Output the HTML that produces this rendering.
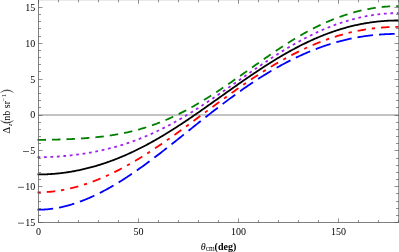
<!DOCTYPE html>
<html><head><meta charset="utf-8"><style>
html,body{margin:0;padding:0;background:#fff;}
body{width:399px;height:252px;overflow:hidden;}
svg{display:block;will-change:transform;}
text{font-family:"Liberation Serif",serif;font-size:10px;fill:#000;}
</style></head><body>
<svg width="399" height="252" viewBox="0 0 399 252">
<line x1="38.5" y1="115.0" x2="398.8" y2="115.0" stroke="#888" stroke-width="1.2"/>
<g>
<polyline points="37.50,139.81 38.50,139.81 39.50,139.81 40.50,139.80 41.50,139.80 42.50,139.80 43.50,139.79 44.50,139.78 45.50,139.77 46.50,139.76 47.50,139.75 48.50,139.74 49.50,139.72 50.50,139.71 51.50,139.69 52.50,139.67 53.50,139.65 54.50,139.63 55.50,139.60 56.50,139.58 57.50,139.55 58.50,139.52 59.50,139.50 60.50,139.47 61.50,139.43 62.50,139.40 63.50,139.36 64.50,139.33 65.50,139.29 66.50,139.25 67.50,139.21 68.50,139.17 69.50,139.12 70.50,139.08 71.50,139.03 72.50,138.98 73.50,138.93 74.50,138.88 75.50,138.82 76.50,138.77 77.50,138.71 78.50,138.65 79.50,138.59 80.50,138.52 81.50,138.46 82.50,138.39 83.50,138.32 84.50,138.25 85.50,138.17 86.50,138.10 87.50,138.02 88.50,137.94 89.50,137.85 90.50,137.77 91.50,137.68 92.50,137.59 93.50,137.49 94.50,137.40 95.50,137.30 96.50,137.20 97.50,137.09 98.50,136.98 99.50,136.87 100.50,136.76 101.50,136.64 102.50,136.52 103.50,136.40 104.50,136.27 105.50,136.14 106.50,136.01 107.50,135.87 108.50,135.73 109.50,135.59 110.50,135.44 111.50,135.29 112.50,135.13 113.50,134.98 114.50,134.81 115.50,134.65 116.50,134.47 117.50,134.30 118.50,134.12 119.50,133.93 120.50,133.75 121.50,133.55 122.50,133.36 123.50,133.16 124.50,132.95 125.50,132.74 126.50,132.52 127.50,132.30 128.50,132.08 129.50,131.85 130.50,131.62 131.50,131.38 132.50,131.13 133.50,130.89 134.50,130.63 135.50,130.37 136.50,130.11 137.50,129.84 138.50,129.57 139.50,129.29 140.50,129.00 141.50,128.71 142.50,128.42 143.50,128.12 144.50,127.81 145.50,127.50 146.50,127.18 147.50,126.86 148.50,126.53 149.50,126.20 150.50,125.86 151.50,125.52 152.50,125.17 153.50,124.82 154.50,124.46 155.50,124.09 156.50,123.72 157.50,123.34 158.50,122.96 159.50,122.57 160.50,122.18 161.50,121.78 162.50,121.38 163.50,120.97 164.50,120.55 165.50,120.13 166.50,119.71 167.50,119.27 168.50,118.84 169.50,118.39 170.50,117.95 171.50,117.49 172.50,117.03 173.50,116.57 174.50,116.10 175.50,115.62 176.50,115.14 177.50,114.66 178.50,114.17 179.50,113.67 180.50,113.17 181.50,112.66 182.50,112.15 183.50,111.63 184.50,111.11 185.50,110.58 186.50,110.05 187.50,109.52 188.50,108.97 189.50,108.43 190.50,107.88 191.50,107.32 192.50,106.76 193.50,106.19 194.50,105.62 195.50,105.05 196.50,104.47 197.50,103.89 198.50,103.30 199.50,102.71 200.50,102.11 201.50,101.51 202.50,100.91 203.50,100.30 204.50,99.69 205.50,99.07 206.50,98.45 207.50,97.83 208.50,97.20 209.50,96.57 210.50,95.94 211.50,95.30 212.50,94.66 213.50,94.01 214.50,93.36 215.50,92.71 216.50,92.06 217.50,91.40 218.50,90.74 219.50,90.08 220.50,89.41 221.50,88.74 222.50,88.07 223.50,87.40 224.50,86.72 225.50,86.04 226.50,85.36 227.50,84.68 228.50,84.00 229.50,83.31 230.50,82.62 231.50,81.93 232.50,81.24 233.50,80.55 234.50,79.85 235.50,79.15 236.50,78.46 237.50,77.76 238.50,77.06 239.50,76.35 240.50,75.65 241.50,74.95 242.50,74.24 243.50,73.54 244.50,72.83 245.50,72.13 246.50,71.42 247.50,70.71 248.50,70.01 249.50,69.30 250.50,68.59 251.50,67.89 252.50,67.18 253.50,66.47 254.50,65.77 255.50,65.06 256.50,64.36 257.50,63.65 258.50,62.95 259.50,62.25 260.50,61.54 261.50,60.84 262.50,60.14 263.50,59.45 264.50,58.75 265.50,58.05 266.50,57.36 267.50,56.67 268.50,55.98 269.50,55.29 270.50,54.60 271.50,53.92 272.50,53.24 273.50,52.56 274.50,51.88 275.50,51.20 276.50,50.53 277.50,49.86 278.50,49.20 279.50,48.53 280.50,47.87 281.50,47.21 282.50,46.56 283.50,45.91 284.50,45.26 285.50,44.62 286.50,43.98 287.50,43.34 288.50,42.71 289.50,42.08 290.50,41.45 291.50,40.83 292.50,40.21 293.50,39.60 294.50,38.99 295.50,38.39 296.50,37.79 297.50,37.19 298.50,36.60 299.50,36.01 300.50,35.43 301.50,34.85 302.50,34.28 303.50,33.72 304.50,33.15 305.50,32.60 306.50,32.05 307.50,31.50 308.50,30.96 309.50,30.42 310.50,29.89 311.50,29.37 312.50,28.85 313.50,28.33 314.50,27.83 315.50,27.32 316.50,26.83 317.50,26.33 318.50,25.85 319.50,25.37 320.50,24.89 321.50,24.42 322.50,23.96 323.50,23.50 324.50,23.05 325.50,22.61 326.50,22.17 327.50,21.73 328.50,21.31 329.50,20.88 330.50,20.47 331.50,20.06 332.50,19.65 333.50,19.25 334.50,18.86 335.50,18.47 336.50,18.09 337.50,17.72 338.50,17.35 339.50,16.99 340.50,16.63 341.50,16.28 342.50,15.93 343.50,15.59 344.50,15.26 345.50,14.93 346.50,14.61 347.50,14.29 348.50,13.98 349.50,13.68 350.50,13.38 351.50,13.09 352.50,12.80 353.50,12.52 354.50,12.24 355.50,11.97 356.50,11.71 357.50,11.45 358.50,11.20 359.50,10.96 360.50,10.72 361.50,10.48 362.50,10.25 363.50,10.03 364.50,9.81 365.50,9.60 366.50,9.40 367.50,9.20 368.50,9.01 369.50,8.82 370.50,8.64 371.50,8.47 372.50,8.30 373.50,8.14 374.50,7.98 375.50,7.83 376.50,7.69 377.50,7.55 378.50,7.42 379.50,7.30 380.50,7.18 381.50,7.07 382.50,6.96 383.50,6.86 384.50,6.77 385.50,6.69 386.50,6.61 387.50,6.54 388.50,6.47 389.50,6.41 390.50,6.36 391.50,6.31 392.50,6.27 393.50,6.24 394.50,6.22 395.50,6.20 396.50,6.19 397.50,6.18 398.50,6.18" fill="none" stroke="#007f00" stroke-width="1.8" stroke-dasharray="8.5 5.99" stroke-dashoffset="0"/>
<polyline points="37.50,157.23 38.50,157.23 39.50,157.23 40.50,157.22 41.50,157.21 42.50,157.20 43.50,157.18 44.50,157.16 45.50,157.14 46.50,157.11 47.50,157.08 48.50,157.05 49.50,157.01 50.50,156.97 51.50,156.92 52.50,156.88 53.50,156.82 54.50,156.77 55.50,156.71 56.50,156.65 57.50,156.58 58.50,156.51 59.50,156.44 60.50,156.36 61.50,156.28 62.50,156.20 63.50,156.11 64.50,156.02 65.50,155.93 66.50,155.83 67.50,155.73 68.50,155.63 69.50,155.52 70.50,155.41 71.50,155.30 72.50,155.19 73.50,155.07 74.50,154.94 75.50,154.82 76.50,154.69 77.50,154.56 78.50,154.42 79.50,154.28 80.50,154.14 81.50,153.99 82.50,153.84 83.50,153.69 84.50,153.53 85.50,153.37 86.50,153.21 87.50,153.05 88.50,152.88 89.50,152.70 90.50,152.53 91.50,152.34 92.50,152.16 93.50,151.97 94.50,151.78 95.50,151.59 96.50,151.39 97.50,151.19 98.50,150.98 99.50,150.77 100.50,150.55 101.50,150.34 102.50,150.11 103.50,149.89 104.50,149.66 105.50,149.42 106.50,149.19 107.50,148.94 108.50,148.70 109.50,148.45 110.50,148.19 111.50,147.93 112.50,147.67 113.50,147.40 114.50,147.13 115.50,146.86 116.50,146.57 117.50,146.29 118.50,146.00 119.50,145.71 120.50,145.41 121.50,145.10 122.50,144.80 123.50,144.48 124.50,144.17 125.50,143.84 126.50,143.52 127.50,143.19 128.50,142.85 129.50,142.51 130.50,142.17 131.50,141.82 132.50,141.46 133.50,141.10 134.50,140.74 135.50,140.37 136.50,139.99 137.50,139.62 138.50,139.23 139.50,138.84 140.50,138.45 141.50,138.05 142.50,137.65 143.50,137.24 144.50,136.83 145.50,136.41 146.50,135.99 147.50,135.56 148.50,135.13 149.50,134.69 150.50,134.25 151.50,133.81 152.50,133.35 153.50,132.90 154.50,132.44 155.50,131.97 156.50,131.50 157.50,131.03 158.50,130.55 159.50,130.06 160.50,129.57 161.50,129.08 162.50,128.58 163.50,128.08 164.50,127.57 165.50,127.06 166.50,126.54 167.50,126.02 168.50,125.49 169.50,124.96 170.50,124.43 171.50,123.89 172.50,123.35 173.50,122.80 174.50,122.25 175.50,121.69 176.50,121.13 177.50,120.57 178.50,120.00 179.50,119.43 180.50,118.85 181.50,118.27 182.50,117.69 183.50,117.10 184.50,116.51 185.50,115.91 186.50,115.31 187.50,114.71 188.50,114.10 189.50,113.49 190.50,112.88 191.50,112.26 192.50,111.64 193.50,111.02 194.50,110.39 195.50,109.76 196.50,109.13 197.50,108.49 198.50,107.85 199.50,107.21 200.50,106.57 201.50,105.92 202.50,105.27 203.50,104.62 204.50,103.96 205.50,103.30 206.50,102.64 207.50,101.98 208.50,101.31 209.50,100.64 210.50,99.97 211.50,99.30 212.50,98.63 213.50,97.95 214.50,97.27 215.50,96.59 216.50,95.91 217.50,95.23 218.50,94.54 219.50,93.86 220.50,93.17 221.50,92.48 222.50,91.79 223.50,91.10 224.50,90.41 225.50,89.71 226.50,89.02 227.50,88.32 228.50,87.63 229.50,86.93 230.50,86.23 231.50,85.53 232.50,84.84 233.50,84.14 234.50,83.44 235.50,82.74 236.50,82.04 237.50,81.34 238.50,80.64 239.50,79.94 240.50,79.24 241.50,78.54 242.50,77.84 243.50,77.14 244.50,76.45 245.50,75.75 246.50,75.05 247.50,74.36 248.50,73.66 249.50,72.97 250.50,72.28 251.50,71.58 252.50,70.89 253.50,70.20 254.50,69.52 255.50,68.83 256.50,68.15 257.50,67.46 258.50,66.78 259.50,66.10 260.50,65.42 261.50,64.75 262.50,64.07 263.50,63.40 264.50,62.73 265.50,62.06 266.50,61.40 267.50,60.73 268.50,60.07 269.50,59.41 270.50,58.76 271.50,58.11 272.50,57.46 273.50,56.81 274.50,56.16 275.50,55.52 276.50,54.88 277.50,54.25 278.50,53.62 279.50,52.99 280.50,52.36 281.50,51.74 282.50,51.12 283.50,50.51 284.50,49.90 285.50,49.29 286.50,48.68 287.50,48.08 288.50,47.49 289.50,46.89 290.50,46.31 291.50,45.72 292.50,45.14 293.50,44.56 294.50,43.99 295.50,43.43 296.50,42.86 297.50,42.30 298.50,41.75 299.50,41.20 300.50,40.65 301.50,40.11 302.50,39.58 303.50,39.04 304.50,38.52 305.50,38.00 306.50,37.48 307.50,36.97 308.50,36.46 309.50,35.96 310.50,35.46 311.50,34.97 312.50,34.48 313.50,34.00 314.50,33.52 315.50,33.05 316.50,32.58 317.50,32.12 318.50,31.66 319.50,31.21 320.50,30.76 321.50,30.32 322.50,29.89 323.50,29.46 324.50,29.03 325.50,28.61 326.50,28.20 327.50,27.79 328.50,27.39 329.50,26.99 330.50,26.60 331.50,26.21 332.50,25.83 333.50,25.45 334.50,25.08 335.50,24.72 336.50,24.36 337.50,24.00 338.50,23.66 339.50,23.31 340.50,22.98 341.50,22.64 342.50,22.32 343.50,22.00 344.50,21.68 345.50,21.37 346.50,21.07 347.50,20.77 348.50,20.48 349.50,20.19 350.50,19.91 351.50,19.63 352.50,19.36 353.50,19.10 354.50,18.84 355.50,18.58 356.50,18.33 357.50,18.09 358.50,17.85 359.50,17.62 360.50,17.40 361.50,17.18 362.50,16.96 363.50,16.75 364.50,16.55 365.50,16.35 366.50,16.16 367.50,15.97 368.50,15.79 369.50,15.62 370.50,15.45 371.50,15.29 372.50,15.13 373.50,14.98 374.50,14.83 375.50,14.69 376.50,14.56 377.50,14.43 378.50,14.31 379.50,14.19 380.50,14.08 381.50,13.98 382.50,13.88 383.50,13.79 384.50,13.70 385.50,13.62 386.50,13.55 387.50,13.48 388.50,13.42 389.50,13.36 390.50,13.31 391.50,13.27 392.50,13.23 393.50,13.20 394.50,13.17 395.50,13.15 396.50,13.14 397.50,13.13 398.50,13.13" fill="none" stroke="#a020f0" stroke-width="1.8" stroke-dasharray="2.8 3.665" stroke-dashoffset="0"/>
<polyline points="37.50,174.46 38.50,174.46 39.50,174.46 40.50,174.45 41.50,174.44 42.50,174.42 43.50,174.39 44.50,174.36 45.50,174.33 46.50,174.29 47.50,174.25 48.50,174.19 49.50,174.14 50.50,174.08 51.50,174.01 52.50,173.94 53.50,173.86 54.50,173.78 55.50,173.69 56.50,173.60 57.50,173.50 58.50,173.40 59.50,173.29 60.50,173.18 61.50,173.06 62.50,172.94 63.50,172.81 64.50,172.68 65.50,172.54 66.50,172.39 67.50,172.25 68.50,172.09 69.50,171.93 70.50,171.77 71.50,171.60 72.50,171.43 73.50,171.25 74.50,171.06 75.50,170.87 76.50,170.68 77.50,170.48 78.50,170.28 79.50,170.07 80.50,169.86 81.50,169.64 82.50,169.41 83.50,169.18 84.50,168.95 85.50,168.71 86.50,168.47 87.50,168.22 88.50,167.97 89.50,167.71 90.50,167.45 91.50,167.18 92.50,166.91 93.50,166.63 94.50,166.35 95.50,166.06 96.50,165.77 97.50,165.47 98.50,165.17 99.50,164.86 100.50,164.55 101.50,164.23 102.50,163.91 103.50,163.58 104.50,163.25 105.50,162.91 106.50,162.57 107.50,162.22 108.50,161.87 109.50,161.51 110.50,161.15 111.50,160.78 112.50,160.41 113.50,160.04 114.50,159.66 115.50,159.27 116.50,158.88 117.50,158.48 118.50,158.08 119.50,157.67 120.50,157.26 121.50,156.85 122.50,156.43 123.50,156.00 124.50,155.57 125.50,155.14 126.50,154.70 127.50,154.25 128.50,153.80 129.50,153.35 130.50,152.89 131.50,152.43 132.50,151.96 133.50,151.49 134.50,151.01 135.50,150.53 136.50,150.04 137.50,149.55 138.50,149.05 139.50,148.55 140.50,148.05 141.50,147.54 142.50,147.03 143.50,146.51 144.50,145.99 145.50,145.46 146.50,144.93 147.50,144.39 148.50,143.85 149.50,143.31 150.50,142.76 151.50,142.21 152.50,141.65 153.50,141.09 154.50,140.52 155.50,139.96 156.50,139.38 157.50,138.81 158.50,138.22 159.50,137.64 160.50,137.05 161.50,136.46 162.50,135.86 163.50,135.26 164.50,134.66 165.50,134.05 166.50,133.44 167.50,132.83 168.50,132.21 169.50,131.59 170.50,130.97 171.50,130.34 172.50,129.71 173.50,129.08 174.50,128.44 175.50,127.80 176.50,127.16 177.50,126.51 178.50,125.86 179.50,125.21 180.50,124.56 181.50,123.90 182.50,123.24 183.50,122.58 184.50,121.91 185.50,121.24 186.50,120.57 187.50,119.90 188.50,119.23 189.50,118.55 190.50,117.87 191.50,117.19 192.50,116.51 193.50,115.82 194.50,115.13 195.50,114.45 196.50,113.75 197.50,113.06 198.50,112.37 199.50,111.67 200.50,110.97 201.50,110.28 202.50,109.58 203.50,108.87 204.50,108.17 205.50,107.47 206.50,106.76 207.50,106.06 208.50,105.35 209.50,104.64 210.50,103.93 211.50,103.22 212.50,102.51 213.50,101.80 214.50,101.09 215.50,100.38 216.50,99.67 217.50,98.96 218.50,98.24 219.50,97.53 220.50,96.82 221.50,96.11 222.50,95.39 223.50,94.68 224.50,93.97 225.50,93.26 226.50,92.55 227.50,91.83 228.50,91.12 229.50,90.41 230.50,89.70 231.50,89.00 232.50,88.29 233.50,87.58 234.50,86.87 235.50,86.17 236.50,85.46 237.50,84.76 238.50,84.06 239.50,83.36 240.50,82.66 241.50,81.96 242.50,81.27 243.50,80.57 244.50,79.88 245.50,79.19 246.50,78.50 247.50,77.81 248.50,77.12 249.50,76.44 250.50,75.76 251.50,75.08 252.50,74.40 253.50,73.73 254.50,73.05 255.50,72.38 256.50,71.71 257.50,71.05 258.50,70.39 259.50,69.73 260.50,69.07 261.50,68.41 262.50,67.76 263.50,67.11 264.50,66.46 265.50,65.82 266.50,65.18 267.50,64.54 268.50,63.91 269.50,63.28 270.50,62.65 271.50,62.02 272.50,61.40 273.50,60.79 274.50,60.17 275.50,59.56 276.50,58.95 277.50,58.35 278.50,57.75 279.50,57.15 280.50,56.56 281.50,55.97 282.50,55.39 283.50,54.80 284.50,54.23 285.50,53.65 286.50,53.09 287.50,52.52 288.50,51.96 289.50,51.40 290.50,50.85 291.50,50.30 292.50,49.76 293.50,49.22 294.50,48.68 295.50,48.15 296.50,47.62 297.50,47.10 298.50,46.58 299.50,46.07 300.50,45.56 301.50,45.06 302.50,44.56 303.50,44.06 304.50,43.57 305.50,43.09 306.50,42.60 307.50,42.13 308.50,41.66 309.50,41.19 310.50,40.73 311.50,40.27 312.50,39.82 313.50,39.37 314.50,38.93 315.50,38.49 316.50,38.06 317.50,37.63 318.50,37.21 319.50,36.79 320.50,36.38 321.50,35.97 322.50,35.57 323.50,35.17 324.50,34.78 325.50,34.39 326.50,34.01 327.50,33.64 328.50,33.26 329.50,32.90 330.50,32.54 331.50,32.18 332.50,31.83 333.50,31.48 334.50,31.14 335.50,30.81 336.50,30.48 337.50,30.16 338.50,29.84 339.50,29.52 340.50,29.22 341.50,28.91 342.50,28.62 343.50,28.32 344.50,28.04 345.50,27.76 346.50,27.48 347.50,27.21 348.50,26.94 349.50,26.68 350.50,26.43 351.50,26.18 352.50,25.94 353.50,25.70 354.50,25.47 355.50,25.24 356.50,25.02 357.50,24.80 358.50,24.59 359.50,24.38 360.50,24.18 361.50,23.99 362.50,23.80 363.50,23.61 364.50,23.43 365.50,23.26 366.50,23.09 367.50,22.93 368.50,22.77 369.50,22.62 370.50,22.47 371.50,22.33 372.50,22.19 373.50,22.06 374.50,21.94 375.50,21.81 376.50,21.70 377.50,21.59 378.50,21.48 379.50,21.38 380.50,21.29 381.50,21.20 382.50,21.12 383.50,21.04 384.50,20.96 385.50,20.89 386.50,20.83 387.50,20.77 388.50,20.72 389.50,20.67 390.50,20.63 391.50,20.59 392.50,20.56 393.50,20.53 394.50,20.50 395.50,20.49 396.50,20.47 397.50,20.47 398.50,20.46" fill="none" stroke="#000000" stroke-width="1.8"/>
<polyline points="37.50,192.29 38.50,192.29 39.50,192.29 40.50,192.28 41.50,192.26 42.50,192.23 43.50,192.19 44.50,192.15 45.50,192.10 46.50,192.04 47.50,191.97 48.50,191.90 49.50,191.82 50.50,191.73 51.50,191.63 52.50,191.53 53.50,191.42 54.50,191.30 55.50,191.17 56.50,191.04 57.50,190.89 58.50,190.74 59.50,190.59 60.50,190.42 61.50,190.25 62.50,190.08 63.50,189.89 64.50,189.70 65.50,189.50 66.50,189.30 67.50,189.08 68.50,188.86 69.50,188.64 70.50,188.40 71.50,188.16 72.50,187.92 73.50,187.67 74.50,187.41 75.50,187.14 76.50,186.87 77.50,186.59 78.50,186.31 79.50,186.01 80.50,185.72 81.50,185.41 82.50,185.10 83.50,184.79 84.50,184.47 85.50,184.14 86.50,183.80 87.50,183.46 88.50,183.12 89.50,182.77 90.50,182.41 91.50,182.04 92.50,181.67 93.50,181.30 94.50,180.92 95.50,180.53 96.50,180.14 97.50,179.74 98.50,179.34 99.50,178.93 100.50,178.51 101.50,178.09 102.50,177.66 103.50,177.23 104.50,176.79 105.50,176.35 106.50,175.90 107.50,175.45 108.50,174.99 109.50,174.52 110.50,174.05 111.50,173.58 112.50,173.10 113.50,172.61 114.50,172.12 115.50,171.63 116.50,171.13 117.50,170.62 118.50,170.11 119.50,169.59 120.50,169.07 121.50,168.54 122.50,168.01 123.50,167.48 124.50,166.94 125.50,166.39 126.50,165.84 127.50,165.28 128.50,164.72 129.50,164.16 130.50,163.59 131.50,163.02 132.50,162.44 133.50,161.86 134.50,161.27 135.50,160.68 136.50,160.09 137.50,159.49 138.50,158.88 139.50,158.27 140.50,157.66 141.50,157.05 142.50,156.43 143.50,155.80 144.50,155.18 145.50,154.55 146.50,153.91 147.50,153.27 148.50,152.63 149.50,151.99 150.50,151.34 151.50,150.68 152.50,150.03 153.50,149.37 154.50,148.71 155.50,148.04 156.50,147.37 157.50,146.70 158.50,146.03 159.50,145.35 160.50,144.67 161.50,143.98 162.50,143.30 163.50,142.61 164.50,141.92 165.50,141.22 166.50,140.53 167.50,139.83 168.50,139.13 169.50,138.42 170.50,137.72 171.50,137.01 172.50,136.30 173.50,135.59 174.50,134.87 175.50,134.16 176.50,133.44 177.50,132.72 178.50,132.00 179.50,131.28 180.50,130.55 181.50,129.83 182.50,129.10 183.50,128.37 184.50,127.64 185.50,126.91 186.50,126.18 187.50,125.44 188.50,124.71 189.50,123.97 190.50,123.24 191.50,122.50 192.50,121.76 193.50,121.02 194.50,120.29 195.50,119.55 196.50,118.80 197.50,118.06 198.50,117.32 199.50,116.58 200.50,115.84 201.50,115.10 202.50,114.36 203.50,113.61 204.50,112.87 205.50,112.13 206.50,111.39 207.50,110.65 208.50,109.91 209.50,109.17 210.50,108.43 211.50,107.69 212.50,106.95 213.50,106.21 214.50,105.47 215.50,104.73 216.50,104.00 217.50,103.26 218.50,102.53 219.50,101.79 220.50,101.06 221.50,100.33 222.50,99.60 223.50,98.87 224.50,98.14 225.50,97.41 226.50,96.69 227.50,95.97 228.50,95.24 229.50,94.52 230.50,93.81 231.50,93.09 232.50,92.37 233.50,91.66 234.50,90.95 235.50,90.24 236.50,89.53 237.50,88.83 238.50,88.12 239.50,87.42 240.50,86.72 241.50,86.03 242.50,85.33 243.50,84.64 244.50,83.95 245.50,83.26 246.50,82.58 247.50,81.90 248.50,81.22 249.50,80.54 250.50,79.87 251.50,79.20 252.50,78.53 253.50,77.87 254.50,77.20 255.50,76.54 256.50,75.89 257.50,75.23 258.50,74.58 259.50,73.94 260.50,73.29 261.50,72.65 262.50,72.02 263.50,71.38 264.50,70.75 265.50,70.13 266.50,69.50 267.50,68.88 268.50,68.27 269.50,67.65 270.50,67.04 271.50,66.44 272.50,65.84 273.50,65.24 274.50,64.64 275.50,64.05 276.50,63.47 277.50,62.88 278.50,62.31 279.50,61.73 280.50,61.16 281.50,60.59 282.50,60.03 283.50,59.47 284.50,58.92 285.50,58.36 286.50,57.82 287.50,57.28 288.50,56.74 289.50,56.20 290.50,55.67 291.50,55.15 292.50,54.63 293.50,54.11 294.50,53.60 295.50,53.09 296.50,52.59 297.50,52.09 298.50,51.59 299.50,51.10 300.50,50.62 301.50,50.14 302.50,49.66 303.50,49.19 304.50,48.72 305.50,48.26 306.50,47.80 307.50,47.34 308.50,46.90 309.50,46.45 310.50,46.01 311.50,45.58 312.50,45.15 313.50,44.72 314.50,44.30 315.50,43.89 316.50,43.47 317.50,43.07 318.50,42.67 319.50,42.27 320.50,41.88 321.50,41.49 322.50,41.11 323.50,40.73 324.50,40.36 325.50,39.99 326.50,39.63 327.50,39.28 328.50,38.92 329.50,38.58 330.50,38.24 331.50,37.90 332.50,37.57 333.50,37.24 334.50,36.92 335.50,36.60 336.50,36.29 337.50,35.98 338.50,35.68 339.50,35.38 340.50,35.09 341.50,34.81 342.50,34.53 343.50,34.25 344.50,33.98 345.50,33.71 346.50,33.45 347.50,33.20 348.50,32.95 349.50,32.70 350.50,32.46 351.50,32.23 352.50,32.00 353.50,31.77 354.50,31.56 355.50,31.34 356.50,31.13 357.50,30.93 358.50,30.73 359.50,30.54 360.50,30.35 361.50,30.17 362.50,29.99 363.50,29.81 364.50,29.65 365.50,29.48 366.50,29.33 367.50,29.17 368.50,29.03 369.50,28.88 370.50,28.75 371.50,28.61 372.50,28.49 373.50,28.36 374.50,28.25 375.50,28.13 376.50,28.03 377.50,27.92 378.50,27.83 379.50,27.73 380.50,27.65 381.50,27.56 382.50,27.48 383.50,27.41 384.50,27.34 385.50,27.28 386.50,27.22 387.50,27.17 388.50,27.12 389.50,27.07 390.50,27.03 391.50,27.00 392.50,26.97 393.50,26.94 394.50,26.92 395.50,26.90 396.50,26.89 397.50,26.88 398.50,26.88" fill="none" stroke="#ff0000" stroke-width="1.8" stroke-dasharray="3.3 5.98 8.48 5.85" stroke-dashoffset="0"/>
<polyline points="37.50,209.68 38.50,209.68 39.50,209.67 40.50,209.66 41.50,209.63 42.50,209.60 43.50,209.55 44.50,209.50 45.50,209.43 46.50,209.36 47.50,209.28 48.50,209.18 49.50,209.08 50.50,208.97 51.50,208.85 52.50,208.71 53.50,208.57 54.50,208.42 55.50,208.26 56.50,208.09 57.50,207.91 58.50,207.73 59.50,207.53 60.50,207.32 61.50,207.11 62.50,206.89 63.50,206.65 64.50,206.41 65.50,206.16 66.50,205.91 67.50,205.64 68.50,205.37 69.50,205.08 70.50,204.79 71.50,204.49 72.50,204.19 73.50,203.87 74.50,203.55 75.50,203.22 76.50,202.88 77.50,202.53 78.50,202.18 79.50,201.82 80.50,201.45 81.50,201.07 82.50,200.69 83.50,200.30 84.50,199.90 85.50,199.50 86.50,199.09 87.50,198.67 88.50,198.24 89.50,197.81 90.50,197.37 91.50,196.92 92.50,196.47 93.50,196.01 94.50,195.55 95.50,195.07 96.50,194.59 97.50,194.11 98.50,193.62 99.50,193.12 100.50,192.61 101.50,192.10 102.50,191.58 103.50,191.06 104.50,190.53 105.50,189.99 106.50,189.45 107.50,188.90 108.50,188.35 109.50,187.79 110.50,187.23 111.50,186.65 112.50,186.08 113.50,185.49 114.50,184.91 115.50,184.31 116.50,183.71 117.50,183.11 118.50,182.50 119.50,181.88 120.50,181.26 121.50,180.64 122.50,180.01 123.50,179.37 124.50,178.73 125.50,178.08 126.50,177.43 127.50,176.78 128.50,176.12 129.50,175.45 130.50,174.78 131.50,174.11 132.50,173.43 133.50,172.75 134.50,172.06 135.50,171.37 136.50,170.68 137.50,169.98 138.50,169.27 139.50,168.57 140.50,167.85 141.50,167.14 142.50,166.42 143.50,165.70 144.50,164.97 145.50,164.25 146.50,163.51 147.50,162.78 148.50,162.04 149.50,161.30 150.50,160.55 151.50,159.80 152.50,159.05 153.50,158.30 154.50,157.54 155.50,156.78 156.50,156.02 157.50,155.26 158.50,154.49 159.50,153.72 160.50,152.95 161.50,152.18 162.50,151.41 163.50,150.63 164.50,149.85 165.50,149.07 166.50,148.29 167.50,147.50 168.50,146.72 169.50,145.93 170.50,145.14 171.50,144.35 172.50,143.56 173.50,142.77 174.50,141.98 175.50,141.18 176.50,140.39 177.50,139.59 178.50,138.79 179.50,138.00 180.50,137.20 181.50,136.40 182.50,135.60 183.50,134.80 184.50,134.00 185.50,133.20 186.50,132.40 187.50,131.60 188.50,130.80 189.50,130.00 190.50,129.20 191.50,128.40 192.50,127.60 193.50,126.80 194.50,126.00 195.50,125.21 196.50,124.41 197.50,123.61 198.50,122.82 199.50,122.02 200.50,121.23 201.50,120.43 202.50,119.64 203.50,118.85 204.50,118.06 205.50,117.27 206.50,116.48 207.50,115.70 208.50,114.91 209.50,114.13 210.50,113.35 211.50,112.57 212.50,111.79 213.50,111.01 214.50,110.24 215.50,109.46 216.50,108.69 217.50,107.92 218.50,107.16 219.50,106.39 220.50,105.63 221.50,104.87 222.50,104.11 223.50,103.35 224.50,102.60 225.50,101.85 226.50,101.10 227.50,100.35 228.50,99.61 229.50,98.87 230.50,98.13 231.50,97.40 232.50,96.66 233.50,95.93 234.50,95.21 235.50,94.48 236.50,93.76 237.50,93.05 238.50,92.33 239.50,91.62 240.50,90.91 241.50,90.21 242.50,89.50 243.50,88.81 244.50,88.11 245.50,87.42 246.50,86.73 247.50,86.05 248.50,85.36 249.50,84.69 250.50,84.01 251.50,83.34 252.50,82.68 253.50,82.01 254.50,81.35 255.50,80.70 256.50,80.05 257.50,79.40 258.50,78.75 259.50,78.11 260.50,77.48 261.50,76.84 262.50,76.22 263.50,75.59 264.50,74.97 265.50,74.36 266.50,73.74 267.50,73.14 268.50,72.53 269.50,71.93 270.50,71.34 271.50,70.75 272.50,70.16 273.50,69.58 274.50,69.00 275.50,68.43 276.50,67.86 277.50,67.29 278.50,66.73 279.50,66.17 280.50,65.62 281.50,65.07 282.50,64.53 283.50,63.99 284.50,63.46 285.50,62.93 286.50,62.40 287.50,61.88 288.50,61.37 289.50,60.86 290.50,60.35 291.50,59.85 292.50,59.35 293.50,58.86 294.50,58.37 295.50,57.89 296.50,57.41 297.50,56.93 298.50,56.46 299.50,56.00 300.50,55.54 301.50,55.08 302.50,54.63 303.50,54.19 304.50,53.74 305.50,53.31 306.50,52.88 307.50,52.45 308.50,52.03 309.50,51.61 310.50,51.20 311.50,50.79 312.50,50.39 313.50,49.99 314.50,49.59 315.50,49.21 316.50,48.82 317.50,48.44 318.50,48.07 319.50,47.70 320.50,47.34 321.50,46.98 322.50,46.62 323.50,46.27 324.50,45.93 325.50,45.59 326.50,45.25 327.50,44.92 328.50,44.60 329.50,44.28 330.50,43.96 331.50,43.65 332.50,43.35 333.50,43.05 334.50,42.75 335.50,42.46 336.50,42.18 337.50,41.90 338.50,41.62 339.50,41.35 340.50,41.09 341.50,40.83 342.50,40.57 343.50,40.32 344.50,40.08 345.50,39.84 346.50,39.60 347.50,39.37 348.50,39.15 349.50,38.93 350.50,38.71 351.50,38.50 352.50,38.30 353.50,38.10 354.50,37.90 355.50,37.71 356.50,37.53 357.50,37.35 358.50,37.17 359.50,37.00 360.50,36.84 361.50,36.68 362.50,36.52 363.50,36.37 364.50,36.22 365.50,36.08 366.50,35.95 367.50,35.81 368.50,35.69 369.50,35.56 370.50,35.45 371.50,35.33 372.50,35.22 373.50,35.12 374.50,35.02 375.50,34.92 376.50,34.83 377.50,34.74 378.50,34.66 379.50,34.58 380.50,34.51 381.50,34.44 382.50,34.37 383.50,34.31 384.50,34.25 385.50,34.20 386.50,34.15 387.50,34.11 388.50,34.07 389.50,34.03 390.50,33.99 391.50,33.97 392.50,33.94 393.50,33.92 394.50,33.90 395.50,33.89 396.50,33.88 397.50,33.87 398.50,33.87" fill="none" stroke="#0000ff" stroke-width="1.8" stroke-dasharray="15.7 6.0" stroke-dashoffset="0"/>
</g>
<g stroke="#555" stroke-width="0.75" fill="none">
<rect x="38.5" y="-0.25" width="360.3" height="222.75"/>
<g stroke-width="0.65">
<line x1="38.5" y1="222.5" x2="38.5" y2="218.5"/>
<line x1="38.5" y1="-0.25" x2="38.5" y2="3.75"/>
<line x1="58.5" y1="222.5" x2="58.5" y2="220.0"/>
<line x1="58.5" y1="-0.25" x2="58.5" y2="2.25"/>
<line x1="78.5" y1="222.5" x2="78.5" y2="220.0"/>
<line x1="78.5" y1="-0.25" x2="78.5" y2="2.25"/>
<line x1="98.5" y1="222.5" x2="98.5" y2="220.0"/>
<line x1="98.5" y1="-0.25" x2="98.5" y2="2.25"/>
<line x1="118.5" y1="222.5" x2="118.5" y2="220.0"/>
<line x1="118.5" y1="-0.25" x2="118.5" y2="2.25"/>
<line x1="138.5" y1="222.5" x2="138.5" y2="218.5"/>
<line x1="138.5" y1="-0.25" x2="138.5" y2="3.75"/>
<line x1="158.5" y1="222.5" x2="158.5" y2="220.0"/>
<line x1="158.5" y1="-0.25" x2="158.5" y2="2.25"/>
<line x1="178.5" y1="222.5" x2="178.5" y2="220.0"/>
<line x1="178.5" y1="-0.25" x2="178.5" y2="2.25"/>
<line x1="198.5" y1="222.5" x2="198.5" y2="220.0"/>
<line x1="198.5" y1="-0.25" x2="198.5" y2="2.25"/>
<line x1="218.5" y1="222.5" x2="218.5" y2="220.0"/>
<line x1="218.5" y1="-0.25" x2="218.5" y2="2.25"/>
<line x1="238.5" y1="222.5" x2="238.5" y2="218.5"/>
<line x1="238.5" y1="-0.25" x2="238.5" y2="3.75"/>
<line x1="258.5" y1="222.5" x2="258.5" y2="220.0"/>
<line x1="258.5" y1="-0.25" x2="258.5" y2="2.25"/>
<line x1="278.5" y1="222.5" x2="278.5" y2="220.0"/>
<line x1="278.5" y1="-0.25" x2="278.5" y2="2.25"/>
<line x1="298.5" y1="222.5" x2="298.5" y2="220.0"/>
<line x1="298.5" y1="-0.25" x2="298.5" y2="2.25"/>
<line x1="318.5" y1="222.5" x2="318.5" y2="220.0"/>
<line x1="318.5" y1="-0.25" x2="318.5" y2="2.25"/>
<line x1="338.5" y1="222.5" x2="338.5" y2="218.5"/>
<line x1="338.5" y1="-0.25" x2="338.5" y2="3.75"/>
<line x1="358.5" y1="222.5" x2="358.5" y2="220.0"/>
<line x1="358.5" y1="-0.25" x2="358.5" y2="2.25"/>
<line x1="378.5" y1="222.5" x2="378.5" y2="220.0"/>
<line x1="378.5" y1="-0.25" x2="378.5" y2="2.25"/>
<line x1="398.5" y1="222.5" x2="398.5" y2="220.0"/>
<line x1="398.5" y1="-0.25" x2="398.5" y2="2.25"/>
<line x1="38.5" y1="222.50" x2="42.5" y2="222.50"/>
<line x1="399" y1="222.50" x2="394.5" y2="222.50"/>
<line x1="38.5" y1="215.50" x2="41.0" y2="215.50"/>
<line x1="399" y1="215.50" x2="396.0" y2="215.50"/>
<line x1="38.5" y1="208.50" x2="41.0" y2="208.50"/>
<line x1="399" y1="208.50" x2="396.0" y2="208.50"/>
<line x1="38.5" y1="201.50" x2="41.0" y2="201.50"/>
<line x1="399" y1="201.50" x2="396.0" y2="201.50"/>
<line x1="38.5" y1="193.50" x2="41.0" y2="193.50"/>
<line x1="399" y1="193.50" x2="396.0" y2="193.50"/>
<line x1="38.5" y1="186.50" x2="42.5" y2="186.50"/>
<line x1="399" y1="186.50" x2="394.5" y2="186.50"/>
<line x1="38.5" y1="179.50" x2="41.0" y2="179.50"/>
<line x1="399" y1="179.50" x2="396.0" y2="179.50"/>
<line x1="38.5" y1="172.50" x2="41.0" y2="172.50"/>
<line x1="399" y1="172.50" x2="396.0" y2="172.50"/>
<line x1="38.5" y1="165.50" x2="41.0" y2="165.50"/>
<line x1="399" y1="165.50" x2="396.0" y2="165.50"/>
<line x1="38.5" y1="158.50" x2="41.0" y2="158.50"/>
<line x1="399" y1="158.50" x2="396.0" y2="158.50"/>
<line x1="38.5" y1="150.50" x2="42.5" y2="150.50"/>
<line x1="399" y1="150.50" x2="394.5" y2="150.50"/>
<line x1="38.5" y1="143.50" x2="41.0" y2="143.50"/>
<line x1="399" y1="143.50" x2="396.0" y2="143.50"/>
<line x1="38.5" y1="136.50" x2="41.0" y2="136.50"/>
<line x1="399" y1="136.50" x2="396.0" y2="136.50"/>
<line x1="38.5" y1="129.50" x2="41.0" y2="129.50"/>
<line x1="399" y1="129.50" x2="396.0" y2="129.50"/>
<line x1="38.5" y1="122.50" x2="41.0" y2="122.50"/>
<line x1="399" y1="122.50" x2="396.0" y2="122.50"/>
<line x1="38.5" y1="115.50" x2="42.5" y2="115.50"/>
<line x1="399" y1="115.50" x2="394.5" y2="115.50"/>
<line x1="38.5" y1="107.50" x2="41.0" y2="107.50"/>
<line x1="399" y1="107.50" x2="396.0" y2="107.50"/>
<line x1="38.5" y1="100.50" x2="41.0" y2="100.50"/>
<line x1="399" y1="100.50" x2="396.0" y2="100.50"/>
<line x1="38.5" y1="93.50" x2="41.0" y2="93.50"/>
<line x1="399" y1="93.50" x2="396.0" y2="93.50"/>
<line x1="38.5" y1="86.50" x2="41.0" y2="86.50"/>
<line x1="399" y1="86.50" x2="396.0" y2="86.50"/>
<line x1="38.5" y1="79.50" x2="42.5" y2="79.50"/>
<line x1="399" y1="79.50" x2="394.5" y2="79.50"/>
<line x1="38.5" y1="71.50" x2="41.0" y2="71.50"/>
<line x1="399" y1="71.50" x2="396.0" y2="71.50"/>
<line x1="38.5" y1="64.50" x2="41.0" y2="64.50"/>
<line x1="399" y1="64.50" x2="396.0" y2="64.50"/>
<line x1="38.5" y1="57.50" x2="41.0" y2="57.50"/>
<line x1="399" y1="57.50" x2="396.0" y2="57.50"/>
<line x1="38.5" y1="50.50" x2="41.0" y2="50.50"/>
<line x1="399" y1="50.50" x2="396.0" y2="50.50"/>
<line x1="38.5" y1="43.50" x2="42.5" y2="43.50"/>
<line x1="399" y1="43.50" x2="394.5" y2="43.50"/>
<line x1="38.5" y1="36.50" x2="41.0" y2="36.50"/>
<line x1="399" y1="36.50" x2="396.0" y2="36.50"/>
<line x1="38.5" y1="28.50" x2="41.0" y2="28.50"/>
<line x1="399" y1="28.50" x2="396.0" y2="28.50"/>
<line x1="38.5" y1="21.50" x2="41.0" y2="21.50"/>
<line x1="399" y1="21.50" x2="396.0" y2="21.50"/>
<line x1="38.5" y1="14.50" x2="41.0" y2="14.50"/>
<line x1="399" y1="14.50" x2="396.0" y2="14.50"/>
<line x1="38.5" y1="7.50" x2="42.5" y2="7.50"/>
<line x1="399" y1="7.50" x2="394.5" y2="7.50"/>
</g>
</g>
<g opacity="0.999">
<text x="35.3" y="225.91" text-anchor="end">15</text>
<line x1="18.00" y1="223.16" x2="24.00" y2="223.16" stroke="#222" stroke-width="0.7"/>
<text x="35.3" y="190.07" text-anchor="end">10</text>
<line x1="18.00" y1="187.32" x2="24.00" y2="187.32" stroke="#222" stroke-width="0.7"/>
<text x="35.3" y="154.24" text-anchor="end">5</text>
<line x1="23.00" y1="151.49" x2="29.00" y2="151.49" stroke="#222" stroke-width="0.7"/>
<text x="35.3" y="118.40" text-anchor="end">0</text>
<text x="35.3" y="82.56" text-anchor="end">5</text>
<text x="35.3" y="46.73" text-anchor="end">10</text>
<text x="35.3" y="10.90" text-anchor="end">15</text>
<text x="38.5" y="234.8" text-anchor="middle">0</text>
<text x="138.5" y="234.8" text-anchor="middle">50</text>
<text x="238.5" y="234.8" text-anchor="middle">100</text>
<text x="338.5" y="234.8" text-anchor="middle">150</text>
</g>
<text x="218.5" y="250" text-anchor="middle"><tspan font-style="italic">θ</tspan><tspan style="font-size:7.3px" dy="1.3">cm</tspan><tspan dy="-1.3" font-weight="bold">(deg)</tspan></text>
<g transform="translate(9.9,133.5) rotate(-90)">
<text x="-0.3" y="0" style="font-size:10.8px">Δ</text>
<text x="8.75" y="1.7" style="font-size:6px" font-style="italic" text-anchor="middle">z</text>
<path d="M13,-9.4 Q7.4,-2.8 13,3.7 Q9.2,-2.8 13,-9.4Z" fill="#111" stroke="#111" stroke-width="0.25"/>
<text x="12.84" y="0">nb sr</text>
<text x="34.2" y="-3.5" style="font-size:6.5px" text-anchor="middle">−</text><text x="38.0" y="-4.4" style="font-size:6.7px" text-anchor="middle">1</text>
<path d="M41,-9.4 Q46.6,-2.8 41,3.7 Q44.8,-2.8 41,-9.4Z" fill="#111" stroke="#111" stroke-width="0.25"/>
</g>
</svg>
</body></html>
